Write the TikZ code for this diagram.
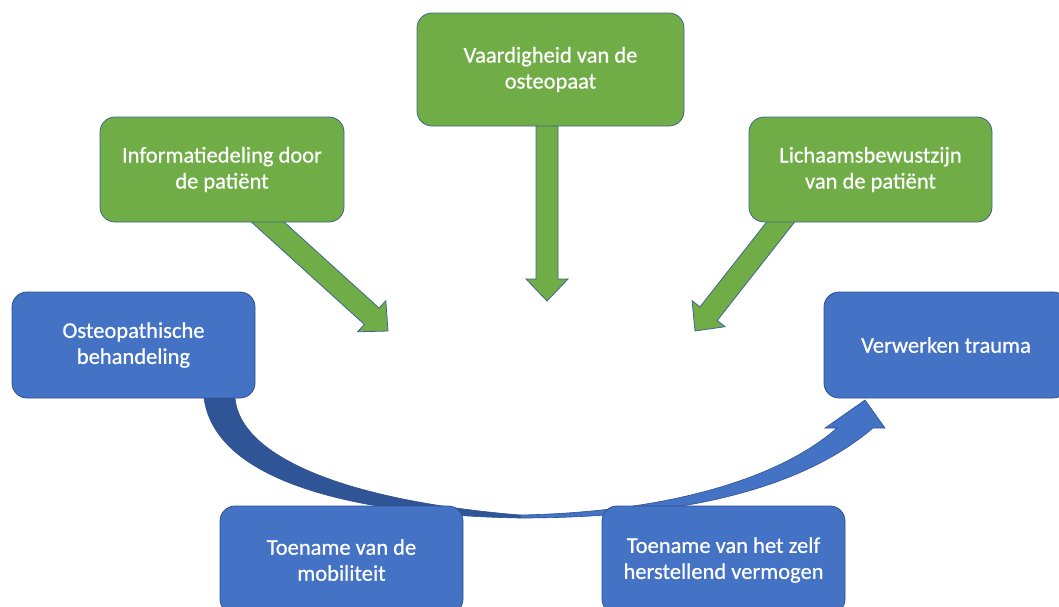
\documentclass[tikz,border=0pt]{standalone}
\usepackage{fontspec}
\setmainfont{Carlito}
\usetikzlibrary{calc}

\definecolor{boxblue}{HTML}{4472C4}
\definecolor{blueline}{HTML}{2F528F}
\definecolor{bandshade}{HTML}{2F5597}
\definecolor{boxgreen}{HTML}{70AD47}
\definecolor{greenline}{HTML}{3F6590}

% straight block arrow from #2 to the tip #3
\newcommand\blockarrow[3][]{%
  \coordinate (#3-base) at ($(#3)!22pt!(#2)$);
  \filldraw[#1]
    ($(#2)!11pt!90:(#3)$) -- ($(#3-base)!11pt!90:(#3)$) --
    ($(#3-base)!21pt!90:(#3)$) -- (#3) --
    ($(#3-base)!21pt!-90:(#3)$) -- ($(#3-base)!11pt!-90:(#3)$) --
    ($(#2)!11pt!-90:(#3)$) -- cycle;}

\tikzset{
  card/.style={rounded corners=15pt, line width=0.8pt, text=white,
    align=center, inner sep=0pt,
    font=\fontsize{22.5}{26}\selectfont\addfontfeature{FakeBold=0.6}},
  bluecard/.style={card, fill=boxblue, draw=blueline},
  greencard/.style={card, fill=boxgreen, draw=greenline},
  greenarrow/.style={fill=boxgreen, draw=greenline, line width=0.8pt, line join=miter},
  band/.style={fill=boxblue, draw=blueline, line width=0.6pt},
  bandback/.style={fill=bandshade, draw=blueline, line width=0.6pt},
}

\begin{document}
\begin{tikzpicture}[x=1pt, y=-1pt]
\useasboundingbox (0,0) rectangle (1059,606);

% influence arrows (drawn under the cards)
\coordinate (infoS) at (249,205);
\coordinate (infoT) at (388,331);
\coordinate (vaarS) at (547,115);
\coordinate (vaarT) at (547,301);
\coordinate (lichS) at (794,205);
\coordinate (lichT) at (695,331);
\blockarrow[greenarrow]{infoS}{infoT}
\blockarrow[greenarrow]{vaarS}{vaarT}
\blockarrow[greenarrow]{lichS}{lichT}

% curved process arrow: shaded back part on the left
\filldraw[bandback]
  (204,398) .. controls (215,480) and (350,515) .. (520,518)
  -- (520,515) .. controls (340,500) and (240,455) .. (235,398) -- cycle;
% front part rising to the head
\filldraw[band, line join=miter]
  (520,518) .. controls (680,518) and (800,490) .. (873,428)
  -- (885,428) -- (865,400) -- (825,428) -- (837,428)
  .. controls (780,478) and (670,512) .. (520,515) -- cycle;

% cards
\node[greencard, minimum width=267pt, minimum height=113pt] (vaard) at (550.5,69.5)
  {Vaardigheid van de\\osteopaat};
\node[greencard, minimum width=244pt, minimum height=105pt] (info) at (222,169.5)
  {Informatiedeling door\\de patiënt};
\node[greencard, minimum width=243pt, minimum height=105pt] (lich) at (870.5,169.5)
  {Lichaamsbewustzijn\\van de patiënt};
\node[bluecard, minimum width=243pt, minimum height=106pt] (osteo) at (133.5,345)
  {Osteopathische\\behandeling};
\node[bluecard, minimum width=244pt, minimum height=106pt] (verw) at (946,345)
  {Verwerken trauma};
\node[bluecard, minimum width=243pt, minimum height=108pt] (mob) at (341.5,560)
  {Toename van de\\mobiliteit};
\node[bluecard, minimum width=243pt, minimum height=108pt] (zelf) at (723.5,560)
  {Toename van het zelf\\herstellend vermogen};
\end{tikzpicture}
\end{document}
